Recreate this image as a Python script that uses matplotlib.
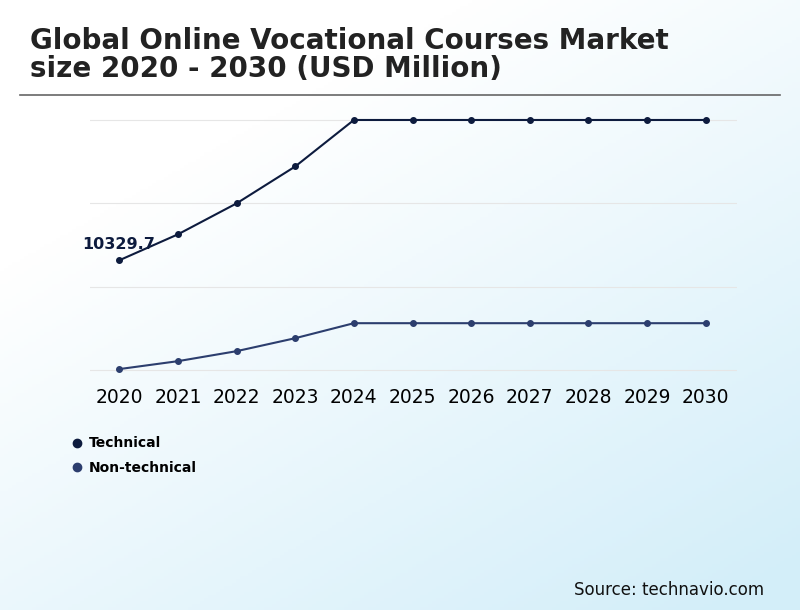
import numpy as np
import matplotlib.pyplot as plt
from matplotlib.colors import LinearSegmentedColormap

years = list(range(2020, 2031))
technical = [10329.7, 12770, 15680, 19150, 23520, 23520, 23520, 23520, 23520, 23520, 23520]
non_technical = [100, 845, 1785, 3005, 4415, 4415, 4415, 4415, 4415, 4415, 4415]
grid_vals = [0, 7840, 15680, 23520]

fig = plt.figure(figsize=(8, 6.1), dpi=100)

# background gradient white -> light blue toward bottom right
bg = fig.add_axes([0, 0, 1, 1], zorder=-10)
xx, yy = np.meshgrid(np.linspace(0, 1, 200), np.linspace(0, 1, 200))
g = np.clip((xx * 0.6 + yy * 0.8) - 0.35, 0, 1)
cmap = LinearSegmentedColormap.from_list("bg", ["#ffffff", "#d3eef9"])
bg.imshow(g, cmap=cmap, aspect="auto", extent=[0, 1, 0, 1], origin="upper")
bg.axis("off")

fig.text(0.038, 0.91, "Global Online Vocational Courses Market\nsize 2020 - 2030 (USD Million)",
         fontsize=20, fontweight="bold", color="#222222", va="center", linespacing=1.0)
fig.add_artist(plt.Line2D([0.025, 0.975], [0.845, 0.845], color="#666666", lw=1.2))

ax = fig.add_axes([0.1125, 0.385, 0.8085, 0.4265])
ax.patch.set_alpha(0)
for v in grid_vals:
    ax.axhline(v, color="#e6e6e6", lw=0.8, zorder=0)
ax.plot(years, technical, "-o", color="#0d1b3e", lw=1.5, ms=4, label="Technical")
ax.plot(years, non_technical, "-o", color="#2c3e6e", lw=1.5, ms=4, label="Non-technical")
ax.set_xlim(2019.5, 2030.53)
ax.set_ylim(-470, 23990)
ax.set_xticks(years, [str(y) for y in years], fontsize=13.5)
ax.set_yticks([])
ax.tick_params(axis="x", length=0, pad=9)
for s in ax.spines.values():
    s.set_visible(False)
ax.annotate("10329.7", (2020, technical[0]), xytext=(-27, 8), textcoords="offset points",
            fontsize=11.5, fontweight="bold", color="#0d1b3e")

leg = fig.legend(loc="upper left", bbox_to_anchor=(0.075, 0.305), frameon=False,
                 fontsize=10, handlelength=0.6, handletextpad=0.6, labelspacing=0.75,
                 markerscale=1.5)
for h in leg.legend_handles:
    h.set_linestyle("none")
for t in leg.get_texts():
    t.set_fontweight("bold")

fig.text(0.955, 0.025, "Source: technavio.com", fontsize=12, ha="right", color="#111111")
fig.savefig("out.png", dpi=100)
